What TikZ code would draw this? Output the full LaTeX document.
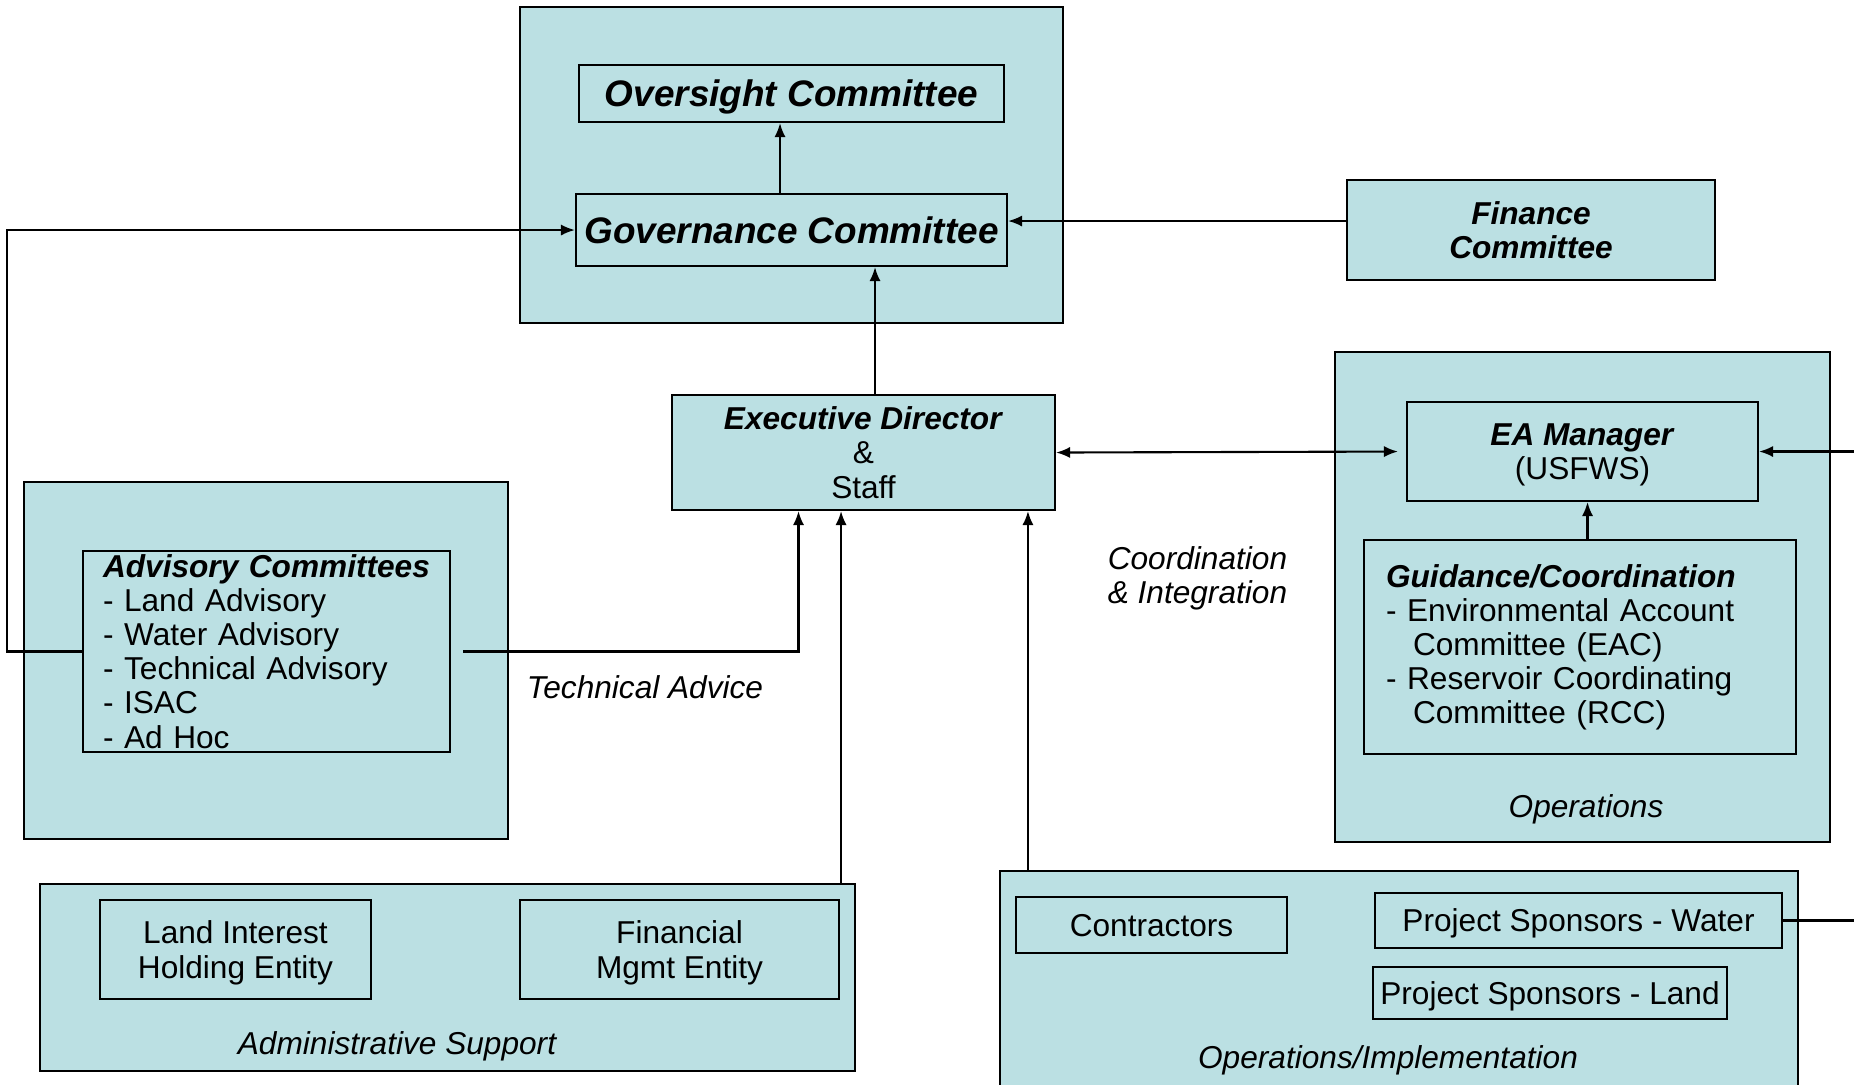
\documentclass[tikz,border=0pt]{standalone}
\usepackage{fontspec}
\setmainfont{Liberation Sans}
\usetikzlibrary{arrows.meta}

\definecolor{paleblue}{RGB}{187,224,227}
\newcommand{\basesize}{\fontsize{9}{9.7}\selectfont}

\tikzset{
  groupbox/.style={draw, fill=paleblue, inner sep=0pt},
  unitbox/.style={draw, fill=paleblue, align=center, inner sep=2pt, text depth=0pt},
  listbox/.style={draw, fill=paleblue, align=left},
  headline/.style={font=\fontsize{10.5}{12}\selectfont\bfseries\itshape},
  flowlabel/.style={font=\basesize\itshape, text depth=0pt},
}

\begin{document}
\begin{tikzpicture}[line width=0.6pt, >={Latex[length=4pt,width=3.2pt]}, font=\basesize]

    \useasboundingbox (0,0) rectangle (18.54,-10.84);

    % Group boxes
    \node at (7.915,-1.65) (GovGroup) [groupbox, minimum width=5.43cm, minimum height=3.16cm] {};
    \node at (2.66,-6.605) (AdvGroup) [groupbox, minimum width=4.84cm, minimum height=3.57cm] {};
    \node at (15.825,-5.97) (OpsGroup) [groupbox, minimum width=4.95cm, minimum height=4.90cm] {};
    \node at (4.475,-9.775) (AdminGroup) [groupbox, minimum width=8.15cm, minimum height=1.87cm] {};
    \node at (13.99,-9.855) (ImplGroup) [groupbox, minimum width=7.98cm, minimum height=2.29cm] {};

    % Committees at the top
    \node at (7.915,-0.935) (Over) [unitbox, headline, minimum width=4.25cm, minimum height=0.57cm] {Oversight Committee};
    \node at (7.915,-2.30) (Gov) [unitbox, headline, minimum width=4.31cm, minimum height=0.72cm] {Governance Committee};
    \node at (15.31,-2.30) (Fin) [unitbox, font=\basesize\bfseries\itshape, minimum width=3.68cm, minimum height=1.00cm] {Finance\\Committee};

    % Executive director
    \node at (8.635,-4.525) (ED) [unitbox, minimum width=3.83cm, minimum height=1.15cm] {\textbf{\textit{Executive Director}}\\\&\\Staff};

    % Advisory side
    \node at (2.665,-6.515) (Adv) [listbox, text width=3.27cm, inner xsep=0.2cm, inner ysep=0pt, minimum height=2.01cm]
        {\textbf{\textit{Advisory Committees}}\\- Land Advisory\\- Water Advisory\\- Technical Advisory\\- ISAC\\- Ad Hoc};

    % Operations side
    \node at (15.825,-4.515) (EA) [unitbox, minimum width=3.51cm, minimum height=0.99cm] {\textbf{\textit{EA Manager}}\\(USFWS)};
    \node at (15.80,-6.47) (Guide) [listbox, text width=3.88cm, inner xsep=0.22cm, minimum height=2.14cm]
        {\textbf{\textit{Guidance/Coordination}}\\- Environmental Account\\\hspace*{2.7mm}Committee (EAC)\\- Reservoir Coordinating\\\hspace*{2.7mm}Committee (RCC)};

    % Administrative support
    \node at (2.355,-9.495) (LandEnt) [unitbox, minimum width=2.71cm, minimum height=0.99cm] {Land Interest\\Holding Entity};
    \node at (6.795,-9.495) (FinEnt) [unitbox, minimum width=3.19cm, minimum height=0.99cm] {Financial\\Mgmt Entity};

    % Implementation
    \node at (11.515,-9.25) (Contr) [unitbox, minimum width=2.71cm, minimum height=0.56cm] {Contractors};
    \node at (15.785,-9.205) (PSW) [unitbox, minimum width=4.07cm, minimum height=0.55cm] {Project Sponsors - Water};
    \node at (15.50,-9.93) (PSL) [unitbox, minimum width=3.50cm, minimum height=0.52cm] {Project Sponsors - Land};

    % Labels
    \node at (6.45,-6.87) (TechLbl) [flowlabel] {Technical Advice};
    \node at (10.95,-5.75) (CoordLbl) [flowlabel, anchor=west, align=left] {Coordination\\\& Integration};
    \node at (3.97,-10.43) (AdminLbl) [flowlabel] {Administrative Support};
    \node at (15.86,-8.06) (OpsLbl) [flowlabel] {Operations};
    \node at (13.88,-10.57) (ImplLbl) [flowlabel] {Operations/Implementation};

    % Arrows into the committees
    \draw[->] ([xshift=-1.15mm]Gov.north) -- ([xshift=-1.15mm]Over.south);
    \draw[->] ([yshift=0.9mm]Fin.west) -- ([yshift=0.9mm]Gov.east);
    \draw[->] ([xshift=1.15mm]ED.north) -- ([xshift=1.15mm]ED.north |- Gov.south);
    \draw[->] (Adv.west) -- ++(-0.75,0) |- (Gov.west);

    % Arrows into the director
    \draw[<->, shorten >=0.8mm] (ED.east) -- (EA.west);
    \draw[->] ([xshift=1.2mm]Adv.east) -| ([xshift=-6.5mm]ED.south);
    \draw[->] ([xshift=-1.5mm]AdminGroup.north east) -- ([xshift=-1.5mm]AdminGroup.north east |- ED.south);
    \draw[->] ([xshift=2.9mm]ImplGroup.north west) -- ([xshift=2.9mm]ImplGroup.north west |- ED.south);

    % Arrows into the EA manager
    \draw[->] ([xshift=0.75mm]Guide.north) -- ([xshift=0.75mm]Guide.north |- EA.south);
    \draw[->] (PSW.east) -- ++(0.9,0) |- (EA.east);

\end{tikzpicture}
\end{document}
